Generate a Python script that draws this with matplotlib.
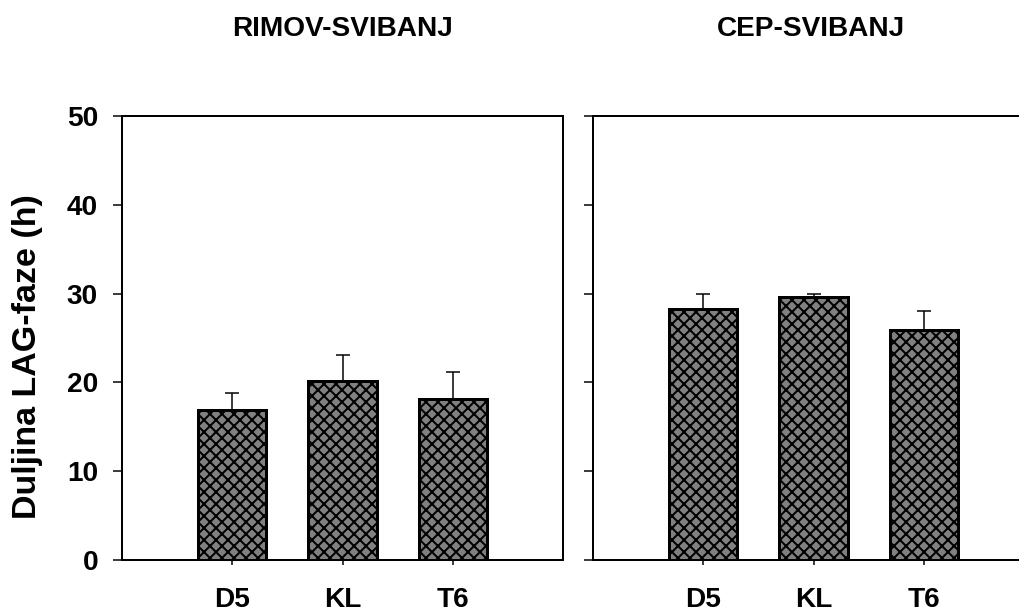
import numpy as np
import matplotlib
matplotlib.use("Agg")
import matplotlib.pyplot as plt

# Data
sites = ["D5", "KL", "T6"]
rimov_means = [16.9, 20.2, 18.1]
rimov_err = [1.9, 2.9, 3.1]
cep_means = [28.3, 29.6, 25.9]
cep_err = [1.6, 0.35, 2.1]
panel_titles = ["RIMOV-SVIBANJ", "CEP-SVIBANJ"]
y_ticks = [0, 10, 20, 30, 40, 50]

plt.rcParams["font.family"] = ["Liberation Sans", "DejaVu Sans"]
plt.rcParams["font.weight"] = "bold"
plt.rcParams["hatch.linewidth"] = 2.0
plt.rcParams["hatch.color"] = "black"

# dpi 72 so that 1 pt == 1 px
DPI = 72
fig = plt.figure(figsize=(1019 / DPI, 612 / DPI), dpi=DPI)

W, H = 1019.0, 612.0
ax_left = fig.add_axes([122 / W, 1 - 560 / H, 441 / W, 444 / H])
ax_right = fig.add_axes([593 / W, 1 - 560 / H, 441 / W, 444 / H])

x = np.arange(len(sites))

for ax, means, errs in [(ax_left, rimov_means, rimov_err), (ax_right, cep_means, cep_err)]:
    ax.errorbar(x, means, yerr=[np.zeros(len(errs)), errs], fmt="none",
                ecolor="black", elinewidth=1.5, capsize=7, capthick=1.5, zorder=1)
    ax.bar(x, means, width=0.62, color="#808080", edgecolor="black",
           linewidth=3, hatch="xx", zorder=2)
    ax.set_xlim(-1, 3)
    ax.set_ylim(0, 50)
    ax.set_yticks(y_ticks)
    ax.set_xticks(x)
    ax.set_xticklabels(sites, fontsize=28, fontweight="bold")
    ax.tick_params(axis="y", direction="out", length=9, width=1.5, labelsize=28, pad=15)
    ax.tick_params(axis="x", direction="out", length=5, width=1.5, pad=22)
    for sp in ax.spines.values():
        sp.set_linewidth(2)

ax_right.set_yticklabels([])
ax_left.set_yticklabels([str(v) for v in y_ticks], fontweight="bold")

# panel titles, centred over each panel
fig.text(343 / W, 1 - 29 / H, panel_titles[0], ha="center", va="center",
         fontsize=28, fontweight="bold")
fig.text(811 / W, 1 - 29 / H, panel_titles[1], ha="center", va="center",
         fontsize=28, fontweight="bold")
fig.text(28 / W, 1 - 357 / H, "Duljina LAG-faze (h)", rotation=90,
         ha="center", va="center", fontsize=34, fontweight="bold")

fig.savefig("out.png", dpi=DPI)
